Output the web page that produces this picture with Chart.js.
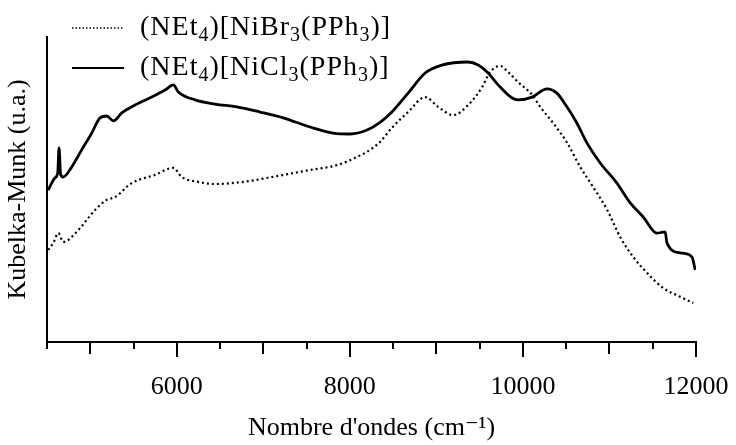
<!DOCTYPE html>
<html>
<head>
<meta charset="utf-8">
<script src="https://cdn.jsdelivr.net/npm/chart.js@4"></script>
<style>
  html, body { margin: 0; padding: 0; background: #fff; }
</style>
</head>
<body>
<canvas id="spectre" width="736" height="445"></canvas>
<script>
// données (nombre d'ondes en cm-1, intensité en u.a.)
const labels = ['(NEt\u2084)[NiBr\u2083(PPh\u2083)]', '(NEt\u2084)[NiCl\u2083(PPh\u2083)]'];

const brX = [4515, 4573, 4631, 4688, 4862, 5055, 5190, 5286, 5479, 5748, 5960, 6057, 6246, 6442, 6766, 7159, 7540, 7852, 8084, 8234, 8349, 8485, 8673, 8870, 9020, 9193, 9367, 9529, 9621, 9737, 9829, 9945, 10107, 10199, 10349, 10511, 10662, 10812, 10974, 11124, 11274, 11436, 11621, 11818, 11968];
const brY = [30.2, 32.5, 35.7, 32.8, 36.7, 43.3, 46.6, 47.5, 52.1, 54.8, 57.1, 54.1, 52.5, 51.8, 52.5, 54.4, 56.4, 58.0, 60.7, 63.0, 65.6, 70.2, 75.4, 80.3, 77.1, 74.4, 77.7, 83.6, 88.5, 90.5, 88.5, 85.2, 81.0, 77.1, 71.8, 65.3, 57.4, 50.8, 43.3, 34.4, 27.9, 22.6, 17.7, 14.8, 12.8];

const clX = [4515, 4554, 4592, 4624, 4639, 4658, 4688, 4786, 4901, 5017, 5113, 5190, 5266, 5364, 5517, 5710, 5864, 5960, 6018, 6211, 6442, 6693, 6962, 7228, 7540, 7806, 8003, 8199, 8349, 8485, 8673, 8870, 9063, 9367, 9483, 9598, 9714, 9875, 9945, 10107, 10277, 10392, 10508, 10623, 10739, 10893, 11086, 11240, 11390, 11548, 11644, 11664, 11818, 11953, 11991];
const clY = [49.8, 52.1, 53.8, 55.4, 63.6, 54.8, 54.1, 57.4, 63.0, 68.5, 73.5, 74.1, 72.5, 75.1, 77.7, 80.3, 82.6, 84.3, 82.0, 79.4, 78.0, 77.1, 75.4, 73.5, 70.5, 68.5, 68.2, 69.5, 72.0, 75.4, 81.6, 88.2, 90.8, 91.8, 90.8, 88.2, 84.3, 80.0, 79.4, 80.3, 83.0, 81.6, 77.1, 71.8, 65.3, 58.7, 52.1, 45.6, 41.0, 35.7, 36.1, 32.5, 29.2, 27.9, 23.6];

const xMin = 4500, xMax = 12000, xStep = 500;
const xLabels = [6000, 8000, 10000, 12000];

const police = "'Liberation Serif', 'DejaVu Serif', serif";

function pts(xs, ys) {
    return xs.map((x, i) => ({ x: x, y: ys[i] }));
}

// graduations de longueurs différentes sous l'axe x
const graduations = {
    id: 'graduations',
    afterDraw(chart) {
        const sx = chart.scales.x;
        const ctx = chart.ctx;
        const y0 = chart.chartArea.bottom;
        ctx.save();
        ctx.strokeStyle = '#000';
        ctx.lineWidth = 2;
        for (let v = xMin; v <= xMax; v += xStep) {
            const len = v % 2000 === 0 ? 15 : (v % 1000 === 0 ? 12 : 7);
            const px = Math.round(sx.getPixelForValue(v));
            ctx.beginPath();
            ctx.moveTo(px, y0);
            ctx.lineTo(px, y0 + len);
            ctx.stroke();
        }
        ctx.restore();
    }
};

// écrit un libellé en mettant les chiffres indices plus petits et plus bas
const indices = '\u2080\u2081\u2082\u2083\u2084\u2085\u2086\u2087\u2088\u2089';
function texteChimie(ctx, txt, x, y, taille) {
    ctx.letterSpacing = '1px';
    for (const c of txt) {
        const k = indices.indexOf(c);
        if (k >= 0) {
            ctx.font = Math.round(taille * 0.72) + 'px ' + police;
            ctx.fillText(String(k), x, y + taille * 0.27);
            x += ctx.measureText(String(k)).width;
        } else {
            ctx.font = taille + 'px ' + police;
            ctx.fillText(c, x, y);
            x += ctx.measureText(c).width;
        }
    }
}

// légende en haut à gauche, une entrée par ligne
const legende = {
    id: 'legende',
    afterDraw(chart) {
        const ctx = chart.ctx;
        ctx.save();
        ctx.textBaseline = 'middle';
        ctx.fillStyle = '#000';
        chart.data.datasets.forEach((ds, i) => {
            const y = 28 + i * 40;
            ctx.beginPath();
            ctx.strokeStyle = '#000';
            ctx.lineWidth = ds.borderDash.length ? 1.5 : 2;
            ctx.setLineDash(ds.borderDash.length ? [1.5, 2] : []);
            ctx.moveTo(72, y);
            ctx.lineTo(124, y);
            ctx.stroke();
            ctx.setLineDash([]);
            texteChimie(ctx, ds.label, 140, y, 28);
        });
        ctx.restore();
    }
};

new Chart(document.getElementById('spectre'), {
    type: 'line',
    data: {
        datasets: [{
            label: labels[0],
            data: pts(brX, brY),
            borderColor: '#000',
            borderWidth: 2.2,
            borderDash: [2, 3],
            pointRadius: 0,
            cubicInterpolationMode: 'monotone'
        }, {
            label: labels[1],
            data: pts(clX, clY),
            borderColor: '#000',
            borderWidth: 2.8,
            borderDash: [],
            pointRadius: 0,
            cubicInterpolationMode: 'monotone'
        }]
    },
    options: {
        responsive: false,
        animation: false,
        layout: { padding: { top: 37, right: 40, left: 0, bottom: 0 } },
        plugins: {
            legend: { display: false },
            tooltip: { enabled: false }
        },
        scales: {
            x: {
                type: 'linear',
                min: xMin,
                max: xMax,
                grid: { display: false, drawTicks: false },
                border: { display: true, color: '#000', width: 2 },
                ticks: {
                    stepSize: xStep,
                    autoSkip: false,
                    maxRotation: 0,
                    padding: 30,
                    color: '#000',
                    font: { family: police, size: 26 },
                    callback: v => xLabels.includes(v) ? String(v) : ''
                },
                title: {
                    display: true,
                    text: 'Nombre d\'ondes (cm\u207B\u00B9)',
                    color: '#000',
                    font: { family: police, size: 26 },
                    padding: { top: 0, bottom: 1 }
                },
                afterFit(scale) {
                    scale.height = 103;
                    scale.paddingLeft = 0;
                    scale.paddingRight = 0;
                }
            },
            y: {
                min: 0,
                max: 100,
                grid: { display: false, drawTicks: false },
                border: { display: true, color: '#000', width: 2 },
                ticks: { display: false },
                title: {
                    display: true,
                    text: 'Kubelka-Munk (u.a.)',
                    color: '#000',
                    font: { family: police, size: 26 },
                    padding: { top: 3, bottom: 0 }
                },
                afterFit(scale) {
                    scale.width = 47;
                    scale.paddingTop = 0;
                    scale.paddingBottom = 0;
                }
            }
        }
    },
    plugins: [graduations, legende]
});
</script>
</body>
</html>
